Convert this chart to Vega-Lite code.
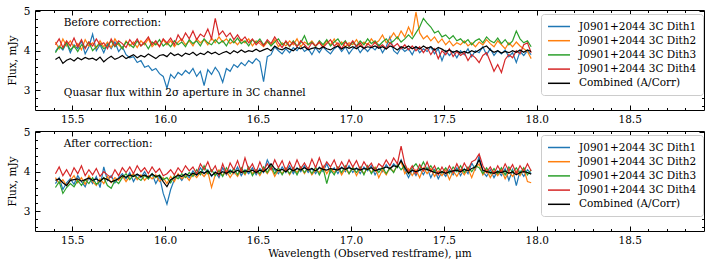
{
"$schema": "https://vega.github.io/schema/vega-lite/v6.json",
"padding": {"left": 6, "top": 5, "right": 5, "bottom": 5},
"spacing": 1,
"config": {
  "view": {"stroke": "black", "strokeWidth": 1},
  "axis": {"grid": false, "domain": false, "tickColor": "black", "tickWidth": 1, "labelColor": "black", "titleColor": "black", "labelFont": "DejaVu Serif", "titleFont": "DejaVu Serif", "labelFontSize": 10.5, "titleFontSize": 10.5, "titleFontWeight": "normal"},
  "legend": {"orient": "none", "legendX": 506, "legendY": 4, "fillColor": "white", "strokeColor": "#cccccc", "cornerRadius": 3, "padding": 6, "labelFont": "DejaVu Serif", "labelFontSize": 10.5, "labelColor": "black", "symbolType": "M-1,0L3,0", "symbolSize": 121, "symbolStrokeWidth": 1.5, "rowPadding": 2.2, "labelOffset": 19}
},
"datasets": {
"before": [
{"w":15.41,"a":3.98,"b":4.22,"c":3.95,"d":4.15,"k":3.78},
{"w":15.43,"a":4.12,"b":4.05,"c":4.1,"d":4.3,"k":3.84},
{"w":15.45,"a":4.02,"b":4.3,"c":4.05,"d":4.08,"k":3.68},
{"w":15.47,"a":4.2,"b":4.12,"c":4.2,"d":4.25,"k":3.76},
{"w":15.49,"a":3.95,"b":4.25,"c":4.02,"d":4.12,"k":3.8},
{"w":15.51,"a":4.15,"b":4.08,"c":4.12,"d":4.32,"k":3.74},
{"w":15.53,"a":4.05,"b":4.18,"c":3.98,"d":4.1,"k":3.82},
{"w":15.55,"a":4.25,"b":4.02,"c":4.15,"d":4.28,"k":3.77},
{"w":15.57,"a":3.92,"b":4.28,"c":4.08,"d":4.05,"k":3.83},
{"w":15.59,"a":4.1,"b":4.12,"c":4.22,"d":4.22,"k":3.79},
{"w":15.61,"a":4.42,"b":4.2,"c":4.0,"d":4.12,"k":3.81},
{"w":15.63,"a":4.0,"b":4.06,"c":4.1,"d":4.3,"k":3.76},
{"w":15.65,"a":4.15,"b":4.25,"c":4.18,"d":4.15,"k":3.84},
{"w":15.67,"a":3.95,"b":4.1,"c":4.05,"d":4.2,"k":3.72},
{"w":15.69,"a":4.18,"b":4.22,"c":4.12,"d":4.05,"k":3.8},
{"w":15.71,"a":4.05,"b":4.08,"c":4.25,"d":4.3,"k":3.86},
{"w":15.73,"a":4.22,"b":4.3,"c":4.1,"d":4.12,"k":3.78},
{"w":15.75,"a":3.98,"b":4.15,"c":4.2,"d":4.25,"k":3.82},
{"w":15.77,"a":4.1,"b":4.05,"c":4.05,"d":4.18,"k":3.88},
{"w":15.79,"a":3.9,"b":4.25,"c":4.22,"d":4.08,"k":3.8},
{"w":15.81,"a":3.82,"b":4.12,"c":4.15,"d":4.28,"k":3.85},
{"w":15.83,"a":3.85,"b":4.22,"c":4.08,"d":4.15,"k":3.9},
{"w":15.85,"a":3.7,"b":4.08,"c":4.25,"d":4.3,"k":3.82},
{"w":15.87,"a":3.75,"b":4.25,"c":4.12,"d":4.12,"k":3.88},
{"w":15.89,"a":3.58,"b":4.15,"c":4.2,"d":4.22,"k":3.84},
{"w":15.91,"a":3.62,"b":4.3,"c":4.05,"d":4.35,"k":3.92},
{"w":15.93,"a":3.5,"b":4.1,"c":4.22,"d":4.15,"k":3.86},
{"w":15.95,"a":3.55,"b":4.2,"c":4.15,"d":4.25,"k":3.8},
{"w":15.97,"a":3.42,"b":4.12,"c":4.28,"d":4.1,"k":3.88},
{"w":15.99,"a":3.35,"b":4.28,"c":4.12,"d":4.3,"k":3.9},
{"w":16.01,"a":3.05,"b":4.15,"c":4.2,"d":4.2,"k":3.85},
{"w":16.03,"a":3.4,"b":4.25,"c":4.1,"d":4.32,"k":3.95},
{"w":16.05,"a":3.3,"b":4.1,"c":4.25,"d":4.15,"k":3.88},
{"w":16.07,"a":3.45,"b":4.22,"c":4.15,"d":4.4,"k":3.92},
{"w":16.09,"a":3.38,"b":4.3,"c":4.22,"d":4.25,"k":3.86},
{"w":16.11,"a":3.5,"b":4.15,"c":4.1,"d":4.45,"k":3.94},
{"w":16.13,"a":3.42,"b":4.25,"c":4.28,"d":4.3,"k":3.9},
{"w":16.15,"a":3.55,"b":4.12,"c":4.18,"d":4.5,"k":3.96},
{"w":16.17,"a":3.35,"b":4.3,"c":4.25,"d":4.28,"k":3.88},
{"w":16.19,"a":3.48,"b":4.2,"c":4.12,"d":4.42,"k":3.94},
{"w":16.21,"a":3.12,"b":4.28,"c":4.3,"d":4.35,"k":3.9},
{"w":16.23,"a":3.52,"b":4.15,"c":4.2,"d":4.55,"k":3.98},
{"w":16.25,"a":3.4,"b":4.32,"c":4.15,"d":4.3,"k":3.92},
{"w":16.27,"a":3.58,"b":4.2,"c":4.28,"d":4.82,"k":3.96},
{"w":16.29,"a":3.45,"b":4.35,"c":4.18,"d":4.4,"k":3.9},
{"w":16.31,"a":3.2,"b":4.22,"c":4.25,"d":4.5,"k":3.95},
{"w":16.33,"a":3.55,"b":4.3,"c":4.12,"d":4.35,"k":3.98},
{"w":16.35,"a":3.48,"b":4.18,"c":4.3,"d":4.45,"k":3.92},
{"w":16.37,"a":3.65,"b":4.25,"c":4.2,"d":4.28,"k":4.0},
{"w":16.39,"a":3.58,"b":4.15,"c":4.32,"d":4.4,"k":3.95},
{"w":16.41,"a":3.7,"b":4.28,"c":4.18,"d":4.25,"k":4.02},
{"w":16.43,"a":3.62,"b":4.2,"c":4.25,"d":4.35,"k":3.96},
{"w":16.45,"a":3.75,"b":4.3,"c":4.12,"d":4.2,"k":4.0},
{"w":16.47,"a":3.68,"b":4.12,"c":4.28,"d":4.3,"k":3.98},
{"w":16.49,"a":3.8,"b":4.25,"c":4.2,"d":4.15,"k":4.04},
{"w":16.51,"a":3.72,"b":4.18,"c":4.3,"d":4.25,"k":3.98},
{"w":16.53,"a":3.22,"b":4.1,"c":4.15,"d":4.12,"k":4.02},
{"w":16.55,"a":3.85,"b":4.22,"c":4.25,"d":4.28,"k":4.06},
{"w":16.57,"a":3.9,"b":4.15,"c":4.12,"d":4.18,"k":4.0},
{"w":16.59,"a":4.1,"b":4.28,"c":4.22,"d":4.35,"k":4.12},
{"w":16.61,"a":4.0,"b":4.1,"c":4.3,"d":4.2,"k":4.05},
{"w":16.63,"a":3.92,"b":4.2,"c":4.15,"d":4.08,"k":4.02},
{"w":16.65,"a":4.05,"b":4.12,"c":4.22,"d":4.25,"k":4.08},
{"w":16.67,"a":3.95,"b":4.25,"c":4.1,"d":4.12,"k":4.04},
{"w":16.69,"a":4.08,"b":4.15,"c":4.25,"d":4.22,"k":4.0},
{"w":16.71,"a":4.0,"b":4.3,"c":4.12,"d":4.1,"k":4.08},
{"w":16.73,"a":4.12,"b":4.1,"c":4.2,"d":4.25,"k":4.05},
{"w":16.75,"a":3.98,"b":4.22,"c":4.38,"d":4.15,"k":4.1},
{"w":16.77,"a":4.05,"b":4.15,"c":4.15,"d":4.05,"k":4.02},
{"w":16.79,"a":3.9,"b":4.25,"c":4.22,"d":4.2,"k":4.06},
{"w":16.81,"a":4.08,"b":4.12,"c":4.1,"d":4.12,"k":4.08},
{"w":16.83,"a":3.95,"b":4.2,"c":4.25,"d":4.22,"k":4.04},
{"w":16.85,"a":4.1,"b":4.1,"c":4.15,"d":4.08,"k":4.1},
{"w":16.87,"a":4.0,"b":4.25,"c":4.28,"d":4.18,"k":4.05},
{"w":16.89,"a":3.92,"b":4.15,"c":4.12,"d":4.28,"k":4.02},
{"w":16.91,"a":4.05,"b":4.3,"c":4.22,"d":4.12,"k":4.08},
{"w":16.93,"a":4.12,"b":4.12,"c":4.3,"d":4.2,"k":4.12},
{"w":16.95,"a":3.98,"b":4.22,"c":4.15,"d":4.05,"k":4.04},
{"w":16.97,"a":4.1,"b":4.1,"c":4.25,"d":4.22,"k":4.1},
{"w":16.99,"a":3.92,"b":4.2,"c":4.1,"d":4.12,"k":4.06},
{"w":17.01,"a":4.05,"b":4.15,"c":4.22,"d":4.25,"k":4.1},
{"w":17.03,"a":4.12,"b":4.28,"c":4.12,"d":4.1,"k":4.05},
{"w":17.05,"a":3.95,"b":4.12,"c":4.25,"d":4.2,"k":4.12},
{"w":17.07,"a":4.08,"b":4.22,"c":4.15,"d":4.05,"k":4.06},
{"w":17.09,"a":3.98,"b":4.15,"c":4.3,"d":4.18,"k":4.1},
{"w":17.11,"a":4.1,"b":4.3,"c":4.18,"d":4.1,"k":4.08},
{"w":17.13,"a":4.02,"b":4.18,"c":4.25,"d":4.22,"k":4.12},
{"w":17.15,"a":4.15,"b":4.25,"c":4.12,"d":4.08,"k":4.06},
{"w":17.17,"a":3.95,"b":4.4,"c":4.22,"d":4.15,"k":4.1},
{"w":17.19,"a":4.1,"b":4.2,"c":4.3,"d":4.05,"k":4.04},
{"w":17.21,"a":4.35,"b":4.3,"c":4.18,"d":4.2,"k":4.12},
{"w":17.23,"a":4.0,"b":4.45,"c":4.25,"d":4.1,"k":4.08},
{"w":17.25,"a":3.92,"b":4.3,"c":4.35,"d":4.18,"k":4.02},
{"w":17.27,"a":4.08,"b":4.5,"c":4.22,"d":4.05,"k":4.1},
{"w":17.29,"a":3.98,"b":4.35,"c":4.3,"d":4.15,"k":4.06},
{"w":17.31,"a":4.05,"b":4.6,"c":4.4,"d":4.02,"k":4.12},
{"w":17.33,"a":3.9,"b":4.4,"c":4.3,"d":4.12,"k":4.05},
{"w":17.35,"a":4.1,"b":4.98,"c":4.45,"d":4.0,"k":4.1},
{"w":17.37,"a":3.95,"b":4.45,"c":4.6,"d":4.1,"k":4.04},
{"w":17.39,"a":4.05,"b":4.3,"c":4.82,"d":3.95,"k":4.12},
{"w":17.41,"a":3.98,"b":4.38,"c":4.7,"d":4.08,"k":4.06},
{"w":17.43,"a":4.1,"b":4.25,"c":4.6,"d":3.9,"k":4.1},
{"w":17.45,"a":3.92,"b":4.35,"c":4.45,"d":4.05,"k":4.02},
{"w":17.47,"a":4.05,"b":4.2,"c":4.5,"d":3.8,"k":4.08},
{"w":17.49,"a":3.75,"b":4.3,"c":4.35,"d":4.0,"k":4.04},
{"w":17.51,"a":4.0,"b":4.15,"c":4.4,"d":3.9,"k":3.98},
{"w":17.53,"a":3.88,"b":4.25,"c":4.3,"d":4.05,"k":4.02},
{"w":17.55,"a":3.98,"b":4.12,"c":4.38,"d":3.85,"k":3.96},
{"w":17.57,"a":3.82,"b":4.2,"c":4.25,"d":3.98,"k":4.0},
{"w":17.59,"a":4.0,"b":4.15,"c":4.3,"d":3.88,"k":3.94},
{"w":17.61,"a":3.9,"b":4.25,"c":4.2,"d":3.95,"k":3.98},
{"w":17.63,"a":4.05,"b":4.12,"c":4.28,"d":3.75,"k":3.94},
{"w":17.65,"a":3.85,"b":4.2,"c":4.15,"d":3.9,"k":4.0},
{"w":17.67,"a":4.0,"b":4.1,"c":4.25,"d":3.82,"k":3.96},
{"w":17.69,"a":3.95,"b":4.22,"c":4.3,"d":3.7,"k":4.02},
{"w":17.71,"a":4.1,"b":4.15,"c":4.2,"d":3.88,"k":4.08},
{"w":17.73,"a":3.9,"b":4.28,"c":4.35,"d":3.95,"k":4.12},
{"w":17.75,"a":4.05,"b":4.18,"c":4.25,"d":3.72,"k":4.02},
{"w":17.77,"a":3.88,"b":4.1,"c":4.2,"d":3.48,"k":3.96},
{"w":17.79,"a":4.0,"b":4.25,"c":4.32,"d":3.65,"k":4.0},
{"w":17.81,"a":3.92,"b":4.15,"c":4.18,"d":3.45,"k":3.94},
{"w":17.83,"a":4.02,"b":4.05,"c":4.28,"d":3.78,"k":3.98},
{"w":17.85,"a":3.85,"b":4.2,"c":4.15,"d":3.9,"k":3.95},
{"w":17.87,"a":3.95,"b":4.1,"c":4.25,"d":3.82,"k":4.0},
{"w":17.89,"a":3.7,"b":4.22,"c":4.5,"d":4.0,"k":3.96},
{"w":17.91,"a":3.98,"b":4.12,"c":4.3,"d":3.92,"k":4.02},
{"w":17.93,"a":3.88,"b":4.05,"c":4.2,"d":4.15,"k":3.96},
{"w":17.95,"a":4.0,"b":3.98,"c":4.25,"d":4.2,"k":4.02},
{"w":17.97,"a":3.9,"b":3.8,"c":4.1,"d":3.95,"k":3.98}
],
"after": [
{"w":15.41,"a":3.7,"b":3.85,"c":3.6,"d":3.95,"k":3.78},
{"w":15.43,"a":3.85,"b":3.7,"c":3.75,"d":4.12,"k":3.82},
{"w":15.45,"a":3.55,"b":3.8,"c":3.45,"d":3.9,"k":3.72},
{"w":15.47,"a":3.72,"b":3.65,"c":3.6,"d":4.05,"k":3.65},
{"w":15.49,"a":3.82,"b":3.78,"c":3.7,"d":3.88,"k":3.78},
{"w":15.51,"a":3.68,"b":3.9,"c":3.62,"d":4.1,"k":3.8},
{"w":15.53,"a":3.9,"b":3.72,"c":3.78,"d":3.95,"k":3.82},
{"w":15.55,"a":3.75,"b":3.85,"c":3.65,"d":4.15,"k":3.76},
{"w":15.57,"a":3.62,"b":3.68,"c":3.8,"d":3.9,"k":3.8},
{"w":15.59,"a":3.85,"b":3.9,"c":3.7,"d":4.05,"k":3.84},
{"w":15.61,"a":3.7,"b":3.75,"c":3.85,"d":3.92,"k":3.78},
{"w":15.63,"a":3.88,"b":3.65,"c":3.68,"d":4.08,"k":3.82},
{"w":15.65,"a":3.6,"b":3.82,"c":3.75,"d":3.88,"k":3.76},
{"w":15.67,"a":4.12,"b":3.7,"c":3.85,"d":4.0,"k":3.84},
{"w":15.69,"a":3.78,"b":3.88,"c":3.65,"d":3.92,"k":3.8},
{"w":15.71,"a":3.9,"b":3.72,"c":3.58,"d":3.85,"k":3.74},
{"w":15.73,"a":3.72,"b":3.85,"c":3.78,"d":4.05,"k":3.78},
{"w":15.75,"a":3.85,"b":3.78,"c":3.7,"d":3.9,"k":3.82},
{"w":15.77,"a":3.95,"b":3.9,"c":3.85,"d":4.1,"k":3.9},
{"w":15.79,"a":3.82,"b":3.75,"c":3.95,"d":3.98,"k":3.86},
{"w":15.81,"a":3.98,"b":3.88,"c":3.8,"d":4.12,"k":3.92},
{"w":15.83,"a":3.75,"b":3.95,"c":3.92,"d":3.95,"k":3.88},
{"w":15.85,"a":3.92,"b":3.8,"c":3.85,"d":4.15,"k":3.94},
{"w":15.87,"a":3.85,"b":3.92,"c":3.78,"d":4.0,"k":3.88},
{"w":15.89,"a":4.0,"b":3.78,"c":3.9,"d":4.1,"k":3.92},
{"w":15.91,"a":3.82,"b":3.9,"c":3.82,"d":3.95,"k":3.86},
{"w":15.93,"a":3.95,"b":3.82,"c":3.95,"d":4.12,"k":3.94},
{"w":15.95,"a":3.7,"b":3.92,"c":3.85,"d":3.98,"k":3.88},
{"w":15.97,"a":3.88,"b":3.75,"c":3.92,"d":4.08,"k":3.9},
{"w":15.99,"a":3.45,"b":3.85,"c":3.8,"d":3.9,"k":3.75},
{"w":16.01,"a":3.18,"b":3.7,"c":3.85,"d":3.95,"k":3.62},
{"w":16.03,"a":3.55,"b":3.88,"c":3.72,"d":4.05,"k":3.8},
{"w":16.05,"a":3.8,"b":3.75,"c":3.9,"d":3.92,"k":3.85},
{"w":16.07,"a":3.9,"b":3.95,"c":3.82,"d":4.1,"k":3.92},
{"w":16.09,"a":3.78,"b":3.82,"c":3.95,"d":3.98,"k":3.88},
{"w":16.11,"a":3.95,"b":3.9,"c":3.85,"d":4.15,"k":3.95},
{"w":16.13,"a":3.85,"b":3.78,"c":3.98,"d":4.02,"k":3.9},
{"w":16.15,"a":4.02,"b":3.95,"c":3.88,"d":4.12,"k":3.96},
{"w":16.17,"a":3.9,"b":3.85,"c":4.05,"d":3.95,"k":3.92},
{"w":16.19,"a":4.1,"b":3.98,"c":3.92,"d":4.2,"k":4.0},
{"w":16.21,"a":3.95,"b":3.88,"c":4.15,"d":4.05,"k":3.96},
{"w":16.23,"a":4.05,"b":4.0,"c":3.95,"d":4.25,"k":4.02},
{"w":16.25,"a":3.88,"b":3.6,"c":4.05,"d":4.0,"k":3.9},
{"w":16.27,"a":4.0,"b":3.92,"c":3.9,"d":4.15,"k":3.98},
{"w":16.29,"a":3.85,"b":4.05,"c":4.02,"d":3.9,"k":3.94},
{"w":16.31,"a":4.1,"b":3.9,"c":3.88,"d":4.2,"k":4.0},
{"w":16.33,"a":3.92,"b":4.02,"c":4.1,"d":3.95,"k":3.96},
{"w":16.35,"a":4.05,"b":3.85,"c":3.95,"d":4.22,"k":4.02},
{"w":16.37,"a":3.95,"b":4.0,"c":4.08,"d":4.05,"k":3.98},
{"w":16.39,"a":4.12,"b":3.88,"c":3.92,"d":4.28,"k":4.04},
{"w":16.41,"a":3.9,"b":4.05,"c":4.1,"d":4.0,"k":3.98},
{"w":16.43,"a":4.05,"b":3.92,"c":3.95,"d":4.35,"k":4.02},
{"w":16.45,"a":3.95,"b":4.1,"c":4.12,"d":4.05,"k":4.0},
{"w":16.47,"a":4.1,"b":3.95,"c":3.9,"d":4.2,"k":4.04},
{"w":16.49,"a":3.92,"b":4.05,"c":4.05,"d":3.98,"k":3.98},
{"w":16.51,"a":4.08,"b":3.9,"c":3.95,"d":4.25,"k":4.04},
{"w":16.53,"a":3.98,"b":4.08,"c":4.12,"d":4.02,"k":4.0},
{"w":16.55,"a":4.3,"b":3.95,"c":3.98,"d":4.2,"k":4.08},
{"w":16.57,"a":4.1,"b":4.1,"c":4.15,"d":4.05,"k":4.2},
{"w":16.59,"a":4.05,"b":3.88,"c":3.95,"d":4.3,"k":4.08},
{"w":16.61,"a":3.95,"b":4.05,"c":4.1,"d":4.1,"k":4.02},
{"w":16.63,"a":4.12,"b":3.95,"c":3.92,"d":4.28,"k":4.06},
{"w":16.65,"a":3.98,"b":4.1,"c":4.08,"d":4.02,"k":4.0},
{"w":16.67,"a":4.15,"b":3.92,"c":3.95,"d":4.25,"k":4.08},
{"w":16.69,"a":3.95,"b":4.08,"c":4.1,"d":4.05,"k":4.02},
{"w":16.71,"a":4.1,"b":3.98,"c":3.92,"d":4.3,"k":4.08},
{"w":16.73,"a":4.0,"b":4.12,"c":4.12,"d":4.08,"k":4.04},
{"w":16.75,"a":4.15,"b":3.95,"c":3.98,"d":4.22,"k":4.1},
{"w":16.77,"a":3.98,"b":4.1,"c":4.1,"d":4.05,"k":4.04},
{"w":16.79,"a":4.08,"b":3.92,"c":3.95,"d":4.32,"k":4.08},
{"w":16.81,"a":3.95,"b":4.05,"c":4.12,"d":4.1,"k":4.02},
{"w":16.83,"a":4.12,"b":3.98,"c":3.92,"d":4.35,"k":4.1},
{"w":16.85,"a":4.0,"b":4.15,"c":4.1,"d":4.08,"k":4.06},
{"w":16.87,"a":4.2,"b":3.95,"c":3.7,"d":4.25,"k":4.04},
{"w":16.89,"a":3.98,"b":4.1,"c":4.05,"d":4.12,"k":4.08},
{"w":16.91,"a":4.1,"b":3.98,"c":3.92,"d":4.3,"k":4.06},
{"w":16.93,"a":3.95,"b":4.12,"c":4.12,"d":4.05,"k":4.04},
{"w":16.95,"a":4.12,"b":3.92,"c":3.98,"d":4.25,"k":4.1},
{"w":16.97,"a":4.0,"b":4.08,"c":4.15,"d":4.08,"k":4.06},
{"w":16.99,"a":4.15,"b":3.95,"c":3.95,"d":4.3,"k":4.1},
{"w":17.01,"a":3.98,"b":4.12,"c":4.1,"d":4.12,"k":4.06},
{"w":17.03,"a":4.1,"b":3.9,"c":3.98,"d":4.28,"k":4.08},
{"w":17.05,"a":3.95,"b":4.08,"c":4.12,"d":4.05,"k":4.04},
{"w":17.07,"a":4.12,"b":3.95,"c":3.92,"d":4.25,"k":4.08},
{"w":17.09,"a":4.02,"b":4.1,"c":4.15,"d":4.1,"k":4.06},
{"w":17.11,"a":4.15,"b":3.98,"c":3.95,"d":4.22,"k":4.1},
{"w":17.13,"a":3.92,"b":4.12,"c":4.1,"d":4.02,"k":4.02},
{"w":17.15,"a":4.08,"b":3.85,"c":3.98,"d":4.2,"k":4.06},
{"w":17.17,"a":4.0,"b":4.05,"c":4.12,"d":4.12,"k":4.08},
{"w":17.19,"a":4.18,"b":3.92,"c":3.95,"d":4.3,"k":4.12},
{"w":17.21,"a":4.05,"b":4.1,"c":4.1,"d":4.15,"k":4.08},
{"w":17.23,"a":4.2,"b":4.0,"c":3.98,"d":4.35,"k":4.15},
{"w":17.25,"a":4.1,"b":4.15,"c":4.18,"d":4.2,"k":4.12},
{"w":17.27,"a":4.3,"b":4.25,"c":4.05,"d":4.65,"k":4.28},
{"w":17.29,"a":4.05,"b":3.95,"c":4.15,"d":4.2,"k":4.1},
{"w":17.31,"a":3.85,"b":4.08,"c":3.95,"d":4.0,"k":3.96},
{"w":17.33,"a":4.05,"b":3.9,"c":4.1,"d":4.15,"k":4.04},
{"w":17.35,"a":3.9,"b":4.05,"c":4.2,"d":3.95,"k":4.0},
{"w":17.37,"a":4.08,"b":3.85,"c":4.05,"d":4.18,"k":4.04},
{"w":17.39,"a":3.92,"b":4.1,"c":4.25,"d":4.02,"k":4.08},
{"w":17.41,"a":4.1,"b":3.95,"c":4.05,"d":4.25,"k":4.06},
{"w":17.43,"a":3.85,"b":4.08,"c":4.15,"d":4.0,"k":4.02},
{"w":17.45,"a":4.05,"b":3.88,"c":4.0,"d":4.15,"k":3.98},
{"w":17.47,"a":3.82,"b":4.02,"c":4.1,"d":3.92,"k":3.96},
{"w":17.49,"a":4.0,"b":3.9,"c":3.98,"d":4.12,"k":4.0},
{"w":17.51,"a":3.88,"b":4.05,"c":4.1,"d":3.95,"k":3.96},
{"w":17.53,"a":4.05,"b":3.8,"c":3.95,"d":4.15,"k":4.0},
{"w":17.55,"a":3.92,"b":4.02,"c":4.12,"d":3.98,"k":4.02},
{"w":17.57,"a":4.1,"b":3.88,"c":4.0,"d":4.2,"k":4.04},
{"w":17.59,"a":3.9,"b":4.05,"c":4.15,"d":4.0,"k":4.0},
{"w":17.61,"a":4.08,"b":3.92,"c":3.98,"d":4.22,"k":4.06},
{"w":17.63,"a":3.95,"b":4.08,"c":4.12,"d":4.05,"k":4.02},
{"w":17.65,"a":4.22,"b":3.85,"c":4.0,"d":4.25,"k":4.08},
{"w":17.67,"a":4.05,"b":4.1,"c":4.15,"d":4.3,"k":4.12},
{"w":17.69,"a":4.4,"b":4.2,"c":4.1,"d":4.45,"k":4.3},
{"w":17.71,"a":4.0,"b":3.92,"c":3.95,"d":4.15,"k":4.04},
{"w":17.73,"a":3.88,"b":4.05,"c":4.1,"d":3.98,"k":4.0},
{"w":17.75,"a":4.05,"b":3.85,"c":3.95,"d":4.12,"k":3.98},
{"w":17.77,"a":3.85,"b":4.02,"c":4.08,"d":3.95,"k":3.96},
{"w":17.79,"a":4.02,"b":3.9,"c":3.95,"d":4.15,"k":4.0},
{"w":17.81,"a":3.9,"b":4.05,"c":4.1,"d":3.98,"k":3.98},
{"w":17.83,"a":4.08,"b":3.82,"c":3.92,"d":4.2,"k":4.02},
{"w":17.85,"a":3.78,"b":4.0,"c":4.12,"d":4.02,"k":3.96},
{"w":17.87,"a":4.05,"b":3.88,"c":3.98,"d":4.18,"k":4.0},
{"w":17.89,"a":3.65,"b":4.02,"c":4.1,"d":3.95,"k":3.92},
{"w":17.91,"a":4.02,"b":3.9,"c":3.95,"d":4.15,"k":3.98},
{"w":17.93,"a":3.88,"b":4.08,"c":4.1,"d":4.0,"k":4.0},
{"w":17.95,"a":4.05,"b":3.75,"c":3.92,"d":4.2,"k":3.98},
{"w":17.97,"a":3.95,"b":3.72,"c":4.05,"d":4.02,"k":3.94}
],
"t1": [{"x": 15.455, "y": 4.69, "t": "Before correction:"}, {"x": 15.455, "y": 2.93, "t": "Quasar flux within 2σ aperture in 3C channel"}],
"t2": [{"x": 15.455, "y": 4.69, "t": "After correction:"}]
},
"vconcat": [
{
 "width": 669, "height": 100,
 "layer": [
  {
   "data": {"name": "before"},
   "transform": [{"fold": ["a","b","c","d","k"], "as": ["s","f"]}],
   "mark": {"type": "line", "strokeWidth": 1.2},
   "encoding": {
    "x": {"field": "w", "type": "quantitative", "scale": {"domain": [15.3, 18.9], "nice": false, "zero": false},
          "axis": {"orient": "bottom", "title": null, "ticks": false, "labelPadding": 4, "values": [15.5,16.0,16.5,17.0,17.5,18.0,18.5], "format": ".1f"}},
    "y": {"field": "f", "type": "quantitative", "scale": {"domain": [2.5, 5.03], "nice": false, "zero": false},
          "axis": {"orient": "left", "title": "Flux, mJy", "titlePadding": 6, "ticks": false, "labelPadding": 5, "values": [3, 4, 5], "format": "d"}},
    "color": {"field": "s", "type": "nominal",
              "scale": {"domain": ["a","b","c","d","k"], "range": ["#1f77b4","#ff7f0e","#2ca02c","#d62728","#000000"]},
              "legend": {"title": null, "labelExpr": "datum.value === 'k' ? 'Combined (A/Corr)' : 'J0901+2044 3C Dith' + (indexof(['a','b','c','d'], datum.value) + 1)"}},
    "strokeWidth": {"condition": {"test": "datum.s === 'k'", "value": 1.8}, "value": 1.2}
   }
  },
  {
   "data": {"name": "t1"},
   "mark": {"type": "text", "align": "left", "baseline": "middle", "font": "DejaVu Serif", "fontSize": 10.5, "color": "black"},
   "encoding": {
    "x": {"field": "x", "type": "quantitative", "scale": {"domain": [15.3, 18.9], "nice": false, "zero": false},
          "axis": {"orient": "top", "title": null, "labels": false, "values": [15.5,16.0,16.5,17.0,17.5,18.0,18.5], "tickSize": -5}},
    "y": {"field": "y", "type": "quantitative", "scale": {"domain": [2.5, 5.03], "nice": false, "zero": false},
          "axis": {"orient": "right", "title": null, "labels": false, "values": [3,4,5], "tickSize": -5}},
    "text": {"field": "t", "type": "nominal"}
   }
  },
  {
   "data": {"name": "t1"},
   "mark": {"type": "text", "opacity": 0, "align": "left", "baseline": "middle", "font": "DejaVu Serif", "fontSize": 10.5},
   "encoding": {
    "x": {"field": "x", "type": "quantitative", "scale": {"domain": [15.3, 18.9], "nice": false, "zero": false},
          "axis": {"orient": "bottom", "title": null, "labels": false, "values": [15.5,16.0,16.5,17.0,17.5,18.0,18.5], "tickSize": -5}},
    "y": {"field": "y", "type": "quantitative", "scale": {"domain": [2.5, 5.03], "nice": false, "zero": false},
          "axis": {"orient": "left", "title": null, "labels": false, "values": [3,4,5], "tickSize": -5}},
    "text": {"field": "t", "type": "nominal"}
   }
  },
  {
   "data": {"name": "t1"},
   "mark": {"type": "text", "opacity": 0, "align": "left", "baseline": "middle", "font": "DejaVu Serif", "fontSize": 10.5},
   "encoding": {
    "x": {"field": "x", "type": "quantitative", "scale": {"domain": [15.3, 18.9], "nice": false, "zero": false},
          "axis": {"orient": "top", "title": null, "labels": false, "values": [15.4,15.6,15.7,15.8,15.9,16.1,16.2,16.3,16.4,16.6,16.7,16.8,16.9,17.1,17.2,17.3,17.4,17.6,17.7,17.8,17.9,18.1,18.2,18.3,18.4,18.6,18.7,18.8], "tickSize": -2.5}},
    "y": {"field": "y", "type": "quantitative", "scale": {"domain": [2.5, 5.03], "nice": false, "zero": false},
          "axis": {"orient": "right", "title": null, "labels": false, "values": [2.6,2.8,3.2,3.4,3.6,3.8,4.2,4.4,4.6,4.8], "tickSize": -2.5}},
    "text": {"field": "t", "type": "nominal"}
   }
  },
  {
   "data": {"name": "t1"},
   "mark": {"type": "text", "opacity": 0, "align": "left", "baseline": "middle", "font": "DejaVu Serif", "fontSize": 10.5},
   "encoding": {
    "x": {"field": "x", "type": "quantitative", "scale": {"domain": [15.3, 18.9], "nice": false, "zero": false},
          "axis": {"orient": "bottom", "title": null, "labels": false, "values": [15.4,15.6,15.7,15.8,15.9,16.1,16.2,16.3,16.4,16.6,16.7,16.8,16.9,17.1,17.2,17.3,17.4,17.6,17.7,17.8,17.9,18.1,18.2,18.3,18.4,18.6,18.7,18.8], "tickSize": -2.5}},
    "y": {"field": "y", "type": "quantitative", "scale": {"domain": [2.5, 5.03], "nice": false, "zero": false},
          "axis": {"orient": "left", "title": null, "labels": false, "values": [2.6,2.8,3.2,3.4,3.6,3.8,4.2,4.4,4.6,4.8], "tickSize": -2.5}},
    "text": {"field": "t", "type": "nominal"}
   }
  }
 ],
 "resolve": {"axis": {"x": "independent", "y": "independent"}}
},
{
 "width": 669, "height": 100,
 "layer": [
  {
   "data": {"name": "after"},
   "transform": [{"fold": ["a","b","c","d","k"], "as": ["s","f"]}],
   "mark": {"type": "line", "strokeWidth": 1.2},
   "encoding": {
    "x": {"field": "w", "type": "quantitative", "scale": {"domain": [15.3, 18.9], "nice": false, "zero": false},
          "axis": {"orient": "bottom", "title": "Wavelength (Observed restframe), μm", "titlePadding": 3, "ticks": false, "labelPadding": 4, "values": [15.5,16.0,16.5,17.0,17.5,18.0,18.5], "format": ".1f"}},
    "y": {"field": "f", "type": "quantitative", "scale": {"domain": [2.5, 5.03], "nice": false, "zero": false},
          "axis": {"orient": "left", "title": "Flux, mJy", "titlePadding": 6, "ticks": false, "labelPadding": 5, "values": [3, 4, 5], "format": "d"}},
    "color": {"field": "s", "type": "nominal",
              "scale": {"domain": ["a","b","c","d","k"], "range": ["#1f77b4","#ff7f0e","#2ca02c","#d62728","#000000"]},
              "legend": {"title": null, "labelExpr": "datum.value === 'k' ? 'Combined (A/Corr)' : 'J0901+2044 3C Dith' + (indexof(['a','b','c','d'], datum.value) + 1)"}},
    "strokeWidth": {"condition": {"test": "datum.s === 'k'", "value": 1.8}, "value": 1.2}
   }
  },
  {
   "data": {"name": "t2"},
   "mark": {"type": "text", "align": "left", "baseline": "middle", "font": "DejaVu Serif", "fontSize": 10.5, "color": "black"},
   "encoding": {
    "x": {"field": "x", "type": "quantitative", "scale": {"domain": [15.3, 18.9], "nice": false, "zero": false},
          "axis": {"orient": "top", "title": null, "labels": false, "values": [15.5,16.0,16.5,17.0,17.5,18.0,18.5], "tickSize": -5}},
    "y": {"field": "y", "type": "quantitative", "scale": {"domain": [2.5, 5.03], "nice": false, "zero": false},
          "axis": {"orient": "right", "title": null, "labels": false, "values": [3,4,5], "tickSize": -5}},
    "text": {"field": "t", "type": "nominal"}
   }
  },
  {
   "data": {"name": "t2"},
   "mark": {"type": "text", "opacity": 0, "align": "left", "baseline": "middle", "font": "DejaVu Serif", "fontSize": 10.5},
   "encoding": {
    "x": {"field": "x", "type": "quantitative", "scale": {"domain": [15.3, 18.9], "nice": false, "zero": false},
          "axis": {"orient": "bottom", "title": null, "labels": false, "values": [15.5,16.0,16.5,17.0,17.5,18.0,18.5], "tickSize": -5}},
    "y": {"field": "y", "type": "quantitative", "scale": {"domain": [2.5, 5.03], "nice": false, "zero": false},
          "axis": {"orient": "left", "title": null, "labels": false, "values": [3,4,5], "tickSize": -5}},
    "text": {"field": "t", "type": "nominal"}
   }
  },
  {
   "data": {"name": "t2"},
   "mark": {"type": "text", "opacity": 0, "align": "left", "baseline": "middle", "font": "DejaVu Serif", "fontSize": 10.5},
   "encoding": {
    "x": {"field": "x", "type": "quantitative", "scale": {"domain": [15.3, 18.9], "nice": false, "zero": false},
          "axis": {"orient": "top", "title": null, "labels": false, "values": [15.4,15.6,15.7,15.8,15.9,16.1,16.2,16.3,16.4,16.6,16.7,16.8,16.9,17.1,17.2,17.3,17.4,17.6,17.7,17.8,17.9,18.1,18.2,18.3,18.4,18.6,18.7,18.8], "tickSize": -2.5}},
    "y": {"field": "y", "type": "quantitative", "scale": {"domain": [2.5, 5.03], "nice": false, "zero": false},
          "axis": {"orient": "right", "title": null, "labels": false, "values": [2.6,2.8,3.2,3.4,3.6,3.8,4.2,4.4,4.6,4.8], "tickSize": -2.5}},
    "text": {"field": "t", "type": "nominal"}
   }
  },
  {
   "data": {"name": "t2"},
   "mark": {"type": "text", "opacity": 0, "align": "left", "baseline": "middle", "font": "DejaVu Serif", "fontSize": 10.5},
   "encoding": {
    "x": {"field": "x", "type": "quantitative", "scale": {"domain": [15.3, 18.9], "nice": false, "zero": false},
          "axis": {"orient": "bottom", "title": null, "labels": false, "values": [15.4,15.6,15.7,15.8,15.9,16.1,16.2,16.3,16.4,16.6,16.7,16.8,16.9,17.1,17.2,17.3,17.4,17.6,17.7,17.8,17.9,18.1,18.2,18.3,18.4,18.6,18.7,18.8], "tickSize": -2.5}},
    "y": {"field": "y", "type": "quantitative", "scale": {"domain": [2.5, 5.03], "nice": false, "zero": false},
          "axis": {"orient": "left", "title": null, "labels": false, "values": [2.6,2.8,3.2,3.4,3.6,3.8,4.2,4.4,4.6,4.8], "tickSize": -2.5}},
    "text": {"field": "t", "type": "nominal"}
   }
  }
 ],
 "resolve": {"axis": {"x": "independent", "y": "independent"}}
}
],
"resolve": {"scale": {"color": "independent"}, "legend": {"color": "independent"}}
}
